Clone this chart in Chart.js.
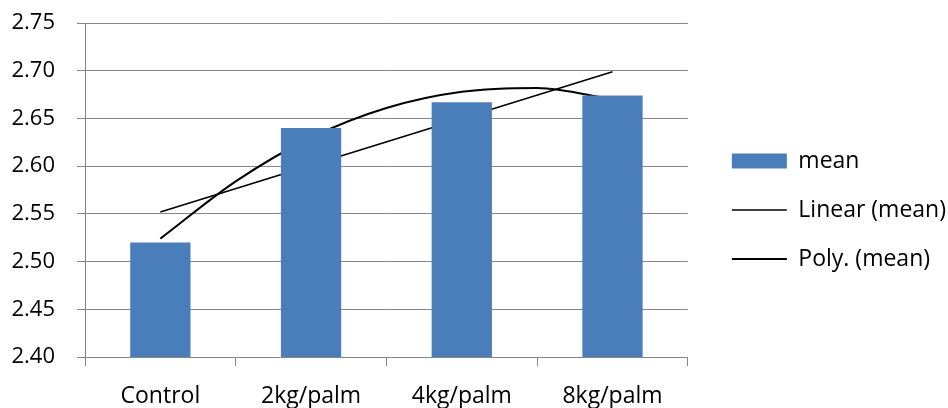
<!DOCTYPE html>
<html>
<head>
<meta charset="utf-8">
<script src="https://cdn.jsdelivr.net/npm/chart.js@4"></script>
<style>
  html, body { margin: 0; padding: 0; background: #fff; }
  canvas { display: block; }
</style>
</head>
<body>
<canvas id="chart" width="948" height="408"></canvas>
<script>
// values
const categories = ["Control", "2kg/palm", "4kg/palm", "8kg/palm"];
const meanValues = [2.520, 2.640, 2.667, 2.674];

// trend lines, x = category number (1..4)
const linearX = [1, 4];
const linearY = [2.552, 2.699];
const polyX = [1, 1.5, 2, 2.5, 3, 3.5, 4];
const polyY = [2.524, 2.584, 2.630, 2.661, 2.678, 2.682, 2.670];

const yTicks = { min: 2.40, max: 2.75, step: 0.05 };

const GRID = "#868686";
const BAR = "#4a7ebb";

Chart.defaults.font.family = "'Open Sans', sans-serif";
Chart.defaults.font.size = 22;
Chart.defaults.color = "#000";

const toPoints = (xs, ys) => xs.map((x, i) => ({ x: x, y: ys[i] }));

const chart = new Chart(document.getElementById("chart"), {
    type: "bar",
    data: {
        labels: categories,
        datasets: [
            { label: "mean", data: meanValues, backgroundColor: BAR, borderWidth: 0, grouped: false,
              barPercentage: 0.4, categoryPercentage: 1.0, pointStyle: "rect" },
            { type: "line", label: "Linear (mean)", data: toPoints(linearX, linearY), xAxisID: "x2",
              borderColor: "#000", borderWidth: 1.6, pointRadius: 0, pointStyle: "line", fill: false },
            { type: "line", label: "Poly. (mean)", data: toPoints(polyX, polyY), xAxisID: "x2",
              borderColor: "#000", borderWidth: 2, pointRadius: 0, pointStyle: "line", fill: false,
              cubicInterpolationMode: "monotone" }
        ]
    },
    options: {
        responsive: false, animation: false,
        layout: { padding: { top: 12, left: 11, right: -8, bottom: 0 } },
        plugins: {
            tooltip: { enabled: false },
            legend: {
                position: "right", maxWidth: 300,
                labels: {
                    usePointStyle: true, pointStyleWidth: 55, boxHeight: 15,
                    padding: 26, font: { size: 23 },
                    sort: (a, b) => a.datasetIndex - b.datasetIndex
                }
            }
        },
        scales: {
            x: {
                grid: { drawOnChartArea: false, color: GRID, tickLength: 9, offset: true },
                border: { color: GRID },
                ticks: { padding: 17, maxRotation: 0, font: { size: 23 } },
                afterFit: s => { s.height = 51; }
            },
            // hidden numeric axis for the trend lines, 1..4 sit on the category centres
            x2: { type: "linear", display: false, offset: false, min: 0.5, max: 4.5 },
            y: {
                min: yTicks.min, max: yTicks.max,
                grid: { color: GRID, tickLength: 8 },
                border: { color: GRID },
                ticks: { stepSize: yTicks.step, padding: 22, callback: v => Number(v).toFixed(2) },
                afterFit: s => { s.width = 74; s.paddingTop = 23; s.paddingBottom = 0; }
            },
            // empty gap between plot and legend
            pad: {
                type: "linear", position: "right", display: true,
                grid: { display: false, drawTicks: false }, border: { display: false },
                ticks: { display: false },
                afterFit: s => { s.width = 18; }
            }
        }
    }
});
chart.update();
</script>
</body>
</html>
